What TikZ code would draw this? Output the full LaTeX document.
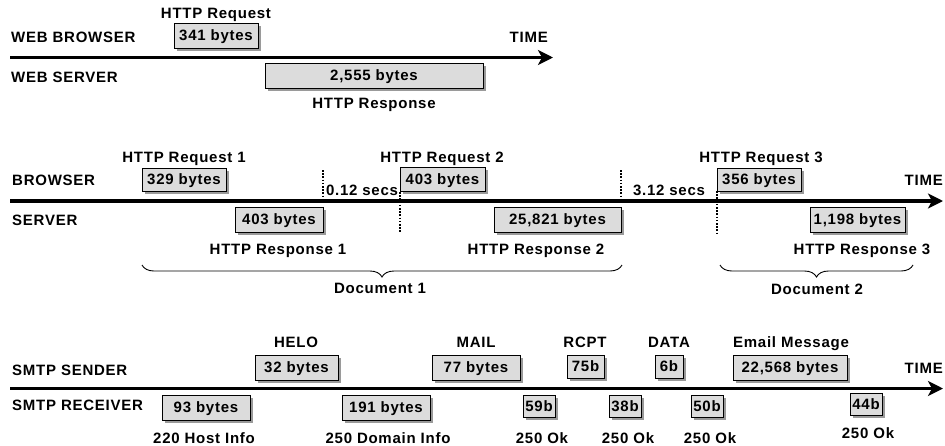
\documentclass[tikz,border=0pt]{standalone}
\usepackage{fontspec}
\setmainfont{Liberation Sans}[LetterSpace=5]
\usetikzlibrary{arrows.meta,shadows,decorations.pathreplacing}
\definecolor{boxfill}{HTML}{DCDCDC}
\definecolor{boxshade}{HTML}{9A9A9A}
\newcommand{\pktbox}[6]{%
  \node[pkt, minimum width={(#4-#2)*1pt}, minimum height={(#5-#3)*1pt}]
    (#1) at ({(#2+#4)/2},{(#3+#5)/2}) {#6};}
\begin{document}
\begin{tikzpicture}[x=1pt,y=-1pt,
  every node/.style={font=\bfseries\fontsize{15}{17}\selectfont, inner sep=0pt,
    text height=10.7pt, text depth=0pt},
  pkt/.style={draw=black, line width=0.9pt, fill=boxfill,
    drop shadow={shadow xshift=3pt, shadow yshift=-3pt, fill=boxshade, opacity=1}},
  timeline/.style={line width=3.5pt, -{Stealth[length=15pt,width=15pt,inset=4pt]}},
  gapline/.style={line width=1.6pt, dash pattern=on 1.6pt off 1.6pt},
  docbrace/.style={line width=0.9pt, decorate,
    decoration={brace, mirror, amplitude=12pt}}]
\useasboundingbox (0,0) rectangle (945,445);

% ---------- Section 1 ----------
\coordinate (l1s) at (10,57.5);
\coordinate (l1e) at (553,57.5);
\draw[timeline] (l1s) -- (l1e);
\node[anchor=west] (wb) at (11,37) {WEB BROWSER};
\node[anchor=west] (ws) at (11,77) {WEB SERVER};
\node[anchor=east] (t1) at (548,37) {TIME};
\node (hreq) at (216,13) {HTTP Request};
\pktbox{p341}{174}{23}{258}{48}{341 bytes}
\pktbox{p2555}{265}{63}{483}{88}{2,555 bytes}
\node (hresp) at (374,103) {HTTP Response};

% ---------- Section 2 ----------
\coordinate (l2s) at (10,201);
\coordinate (l2e) at (943,201);
\draw[timeline] (l2s) -- (l2e);
\node[anchor=west] (br) at (12,180) {BROWSER};
\node[anchor=west] (sv) at (12,220) {SERVER};
\node[anchor=east] (t2) at (943,180) {TIME};
\node (rq1) at (184,157) {HTTP Request 1};
\node (rq2) at (442,157) {HTTP Request 2};
\node (rq3) at (761,157) {HTTP Request 3};
\pktbox{p329}{142}{168}{226}{191}{329 bytes}
\pktbox{p403s}{235}{207}{323}{232}{403 bytes}
\pktbox{p403b}{400}{167}{485}{191}{403 bytes}
\pktbox{p25821}{494}{207}{621}{232}{25,821 bytes}
\pktbox{p356}{717}{168}{801}{191}{356 bytes}
\pktbox{p1198}{810}{207}{905}{232}{1,198 bytes}
\node (rs1) at (278,249) {HTTP Response 1};
\node (rs2) at (536,249) {HTTP Response 2};
\node (rs3) at (862,249) {HTTP Response 3};
\node (g1) at (362,190) {0.12 secs};
\node (g2) at (669,190) {3.12 secs};
\coordinate (d1a) at (323,170); \coordinate (d1b) at (323,201);
\coordinate (d2a) at (400,192); \coordinate (d2b) at (400,233);
\coordinate (d3a) at (621,170); \coordinate (d3b) at (621,201);
\coordinate (d4a) at (717,191); \coordinate (d4b) at (717,233);
\draw[gapline] (d1a) -- (d1b);
\draw[gapline] (d2a) -- (d2b);
\draw[gapline] (d3a) -- (d3b);
\draw[gapline] (d4a) -- (d4b);
\coordinate (b1s) at (142,265); \coordinate (b1e) at (622,265);
\coordinate (b2s) at (720,265); \coordinate (b2e) at (913,265);
\draw[docbrace] (b1s) -- (b1e);
\draw[docbrace] (b2s) -- (b2e);
\node (doc1) at (380,288) {Document 1};
\node (doc2) at (817,289) {Document 2};

% ---------- Section 3 ----------
\coordinate (l3s) at (10,388.5);
\coordinate (l3e) at (943,388.5);
\draw[timeline] (l3s) -- (l3e);
\node[anchor=west] (ss) at (12,370) {SMTP SENDER};
\node[anchor=west] (sr) at (12,405) {SMTP RECEIVER};
\node[anchor=east] (t3) at (943,368) {TIME};
\node (helo) at (296,342) {HELO};
\node (mail) at (476,342) {MAIL};
\node (rcpt) at (585,342) {RCPT};
\node (data) at (669,342) {DATA};
\node (emsg) at (791,342) {Email Message};
\pktbox{p32}{255}{355}{338}{380}{32 bytes}
\pktbox{p77}{432}{355}{520}{380}{77 bytes}
\pktbox{p75}{567}{355}{604}{378}{75b}
\pktbox{p6}{655}{355}{683}{378}{6b}
\pktbox{p22568}{733}{355}{847}{380}{22,568 bytes}
\pktbox{p93}{162}{395}{250}{420}{93 bytes}
\pktbox{p191}{342}{395}{430}{420}{191 bytes}
\pktbox{p59}{523}{395}{555}{417}{59b}
\pktbox{p38}{609}{395}{641}{417}{38b}
\pktbox{p50}{691}{395}{723}{417}{50b}
\pktbox{p44}{850}{393}{882}{415}{44b}
\node (hi) at (204,438) {220 Host Info};
\node (di) at (388,438) {250 Domain Info};
\node (ok1) at (542,438) {250 Ok};
\node (ok2) at (628,438) {250 Ok};
\node (ok3) at (710,438) {250 Ok};
\node (ok4) at (868,433) {250 Ok};
\end{tikzpicture}
\end{document}
